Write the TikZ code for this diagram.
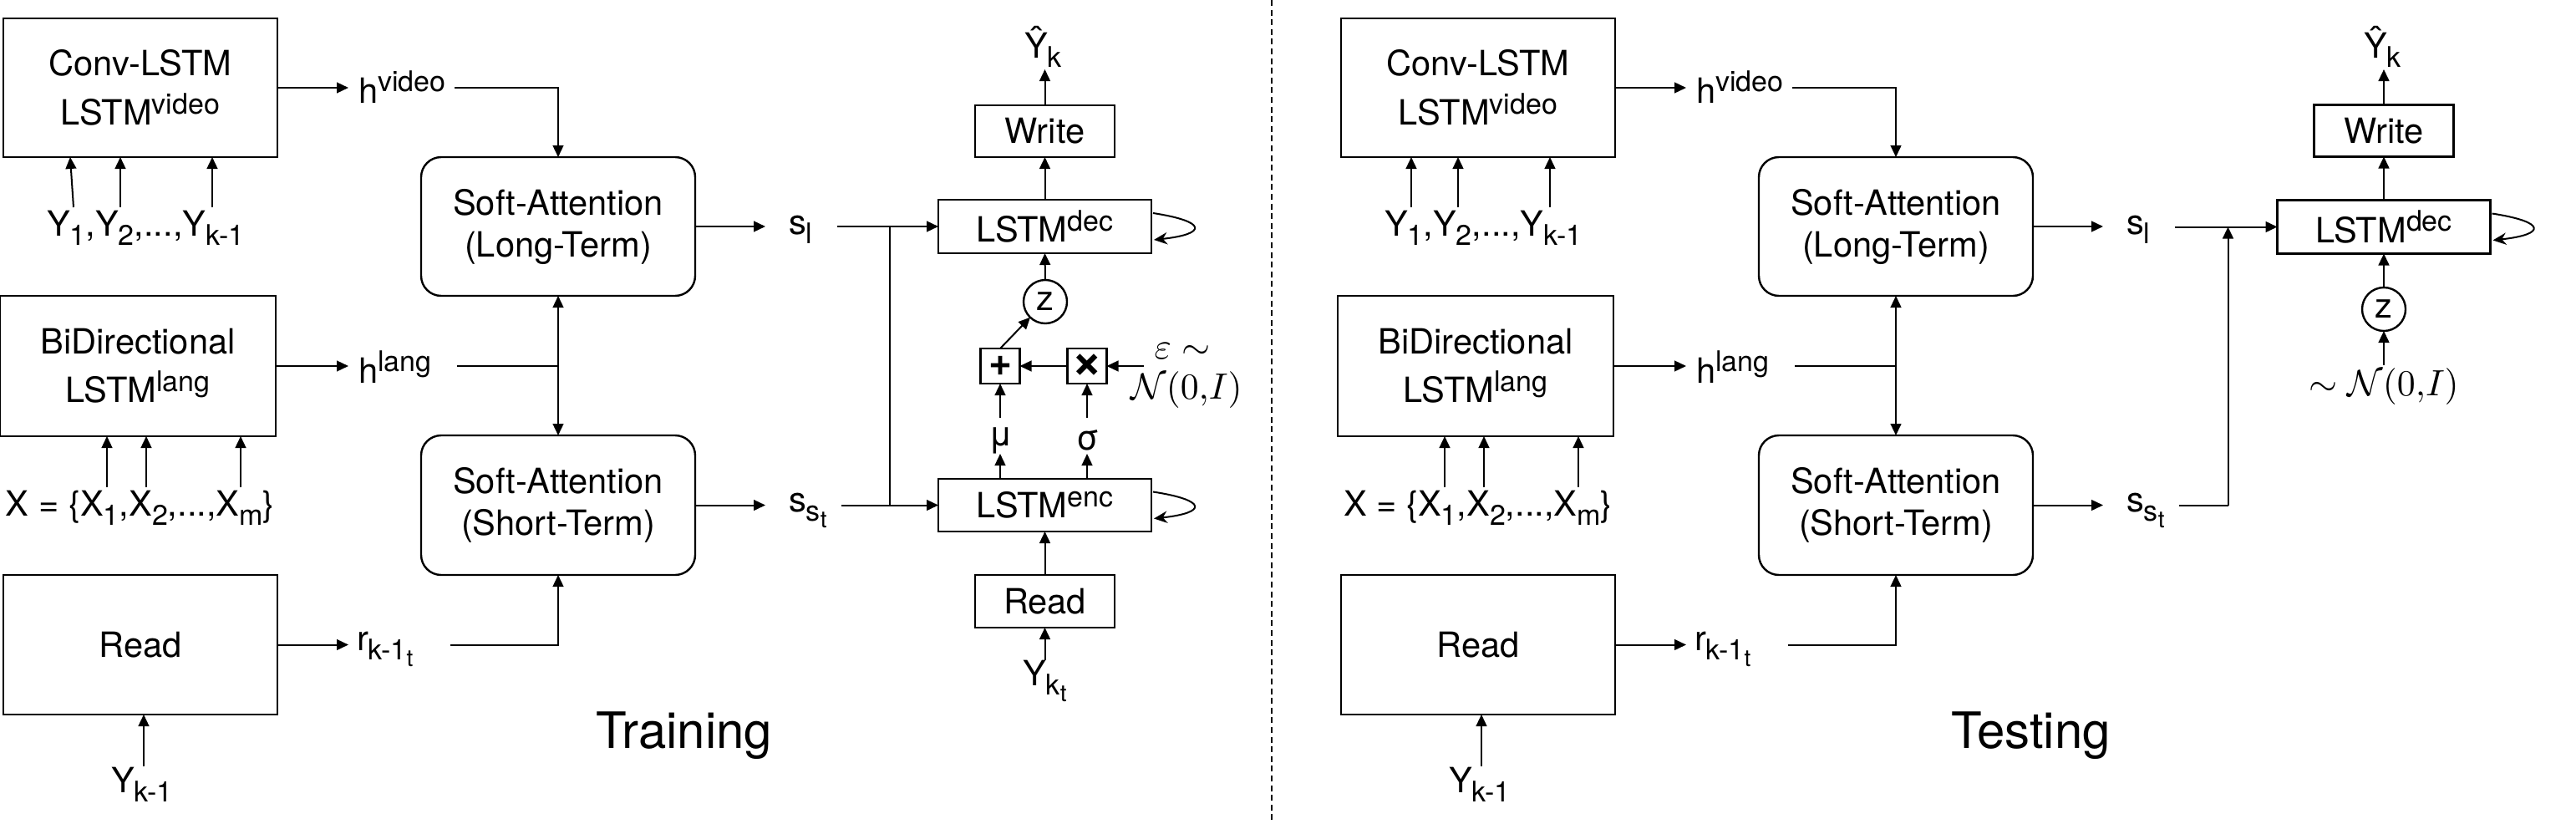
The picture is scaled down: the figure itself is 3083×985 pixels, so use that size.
\documentclass[tikz,border=0pt]{standalone}
\usepackage[no-math]{fontspec}
\setmainfont{TeX Gyre Heros}
\usetikzlibrary{arrows.meta,calc}
\newcommand\sps[1]{\raisebox{3.3pt}{\fontsize{8.5pt}{9pt}\selectfont #1}}
\newcommand\sbs[1]{\raisebox{-2.8pt}{\fontsize{8.5pt}{9pt}\selectfont #1}}
\newcommand\ssbs[1]{\raisebox{-2.0pt}{\fontsize{7pt}{8pt}\selectfont #1}}
\newcommand\mainfs{\fontsize{10.4pt}{14.6pt}\selectfont}
\newcommand\softfs{\fontsize{10.4pt}{12.5pt}\selectfont}
% left half of a panel; #1 = name prefix, #2 = slant of first Y arrow
\newcommand\leftpanel[2]{%
  \node[box, minimum width=82pt, minimum height=41.5pt] (#1conv) at (168,105) {Conv-LSTM\\LSTM\sps{video}};
  \node[box, minimum width=82.5pt, minimum height=42pt] (#1bidir) at (165,438) {BiDirectional\\LSTM\sps{lang}};
  \node[box, minimum width=82pt, minimum height=41.75pt] (#1read) at (168,771.5) {Read};
  \node[rbox, minimum width=82pt, minimum height=41.5pt, font=\softfs] (#1softL) at (668,271) {Soft-Attention\\(Long-Term)};
  \node[rbox, minimum width=82pt, minimum height=41.75pt, font=\softfs] (#1softS) at (668,604.5) {Soft-Attention\\(Short-Term)};
  \node[lbl] (#1ylist) at (56,282) {Y\sbs{1},Y\sbs{2},...,Y\sbs{k-1}};
  \node[lbl] (#1xlist) at (7,617) {X = \{X\sbs{1},X\sbs{2},...,X\sbs{m}\}};
  \node[lbl] (#1yk) at (133,948) {Y\sbs{k-1}};
  \node[lbl] (#1hv) at (429,123) {h\sps{video}};
  \node[lbl] (#1hl) at (429,458) {h\sps{lang}};
  \node[lbl] (#1rr) at (427,778) {r\sbs{k-1\ssbs{t}}};
  \node[lbl] (#1sl) at (944,280) {s\sbs{l}};
  \node[lbl] (#1sst) at (944,612) {s\sbs{s\ssbs{t}}};
  % inputs
  \coordinate (#1ya) at (88,248);
  \coordinate (#1yb) at (144,248);
  \coordinate (#1yc) at (254,248);
  \draw[arr] (#1ya) -- ($(#1ya |- #1conv.south)+(#2,0)$);
  \draw[arr] (#1yb) -- (#1yb |- #1conv.south);
  \draw[arr] (#1yc) -- (#1yc |- #1conv.south);
  \coordinate (#1xa) at (128,583);
  \coordinate (#1xb) at (175,583);
  \coordinate (#1xc) at (288,583);
  \draw[arr] (#1xa) -- (#1xa |- #1bidir.south);
  \draw[arr] (#1xb) -- (#1xb |- #1bidir.south);
  \draw[arr] (#1xc) -- (#1xc |- #1bidir.south);
  \coordinate (#1yka) at (172,917);
  \draw[arr] (#1yka) -- (#1yka |- #1read.south);
  % encoders to attention
  \coordinate (#1hvt) at (417,105);
  \coordinate (#1hvs) at (544,105);
  \draw[arr] (#1conv.east) -- (#1hvt);
  \draw[arr] (#1hvs) -| (#1softL.north);
  \coordinate (#1hlt) at (417,438);
  \coordinate (#1hls) at (547,438);
  \coordinate (#1jl) at (668,438);
  \draw[arr] (#1bidir.east) -- (#1hlt);
  \draw[ln] (#1hls) -- (#1jl);
  \draw[arr] (#1jl) -- (#1softL.south);
  \draw[arr] (#1jl) -- (#1softS.north);
  \coordinate (#1rt) at (417,771.5);
  \coordinate (#1rs) at (539,771.5);
  \draw[arr] (#1read.east) -- (#1rt);
  \draw[arr] (#1rs) -| (#1softS.south);
  \coordinate (#1slt) at (916,271);
  \coordinate (#1sstt) at (916,604.5);
  \draw[arr] (#1softL.east) -- (#1slt);
  \draw[arr] (#1softS.east) -- (#1sstt);
}
\begin{document}
\begin{tikzpicture}[x=0.25pt,y=-0.25pt,
  every node/.style={inner sep=0pt, outer sep=0pt, font=\mainfs},
  box/.style={draw, line width=0.6pt, align=center},
  rbox/.style={box, rounded corners=6pt},
  arr/.style={-{Triangle[length=3.5pt,width=3.2pt]}, line width=0.5pt},
  ln/.style={line width=0.5pt},
  lp/.style={-{Stealth[length=4pt,width=3.6pt]}, line width=0.5pt},
  lbl/.style={anchor=base west},
  ttl/.style={font=\fontsize{15pt}{18pt}\selectfont, anchor=base},
  circ/.style={circle, draw, line width=0.6pt, minimum size=13pt},
  opbox/.style={box, minimum width=11.75pt, minimum height=10.5pt, font=\fontsize{12pt}{12pt}\selectfont\bfseries}
]
\fill[white] (0,0) rectangle (3083,985);
\useasboundingbox (0,0) rectangle (3083,985);

% ================= Training =================
\leftpanel{A}{-4}
\node[box, minimum width=63.75pt, minimum height=16pt] (dec) at (1250.5,271) {LSTM\sps{dec}};
\node[box, minimum width=41.75pt, minimum height=15.5pt] (write) at (1250.5,157) {Write};
\node[lbl] (yhat) at (1226,69) {Ŷ\sbs{k}};
\coordinate (yhatb) at (1250.5,83);
\node[circ] (z) at (1251,361) {z};
\node[opbox] (plus) at (1197,438) {+};
\node[opbox, font=\fontsize{16pt}{16pt}\selectfont\bfseries] (times) at (1301,438) {×};
\node (eps) at (1415,420) {\fontsize{10.5pt}{12pt}\selectfont$\varepsilon\sim$};
\node (nrm) at (1420,467) {\fontsize{10.5pt}{12pt}\selectfont$\mathcal{N}(0{,}I)$};
\node (mu) at (1198,527) {μ};
\node (sig) at (1302,527) {σ};
\node[box, minimum width=63.75pt, minimum height=15.75pt] (enc) at (1250.5,604.5) {LSTM\sps{enc}};
\node[box, minimum width=41.75pt, minimum height=15.75pt] (read2) at (1250.5,719.5) {Read};
\node[lbl] (ykt) at (1224,820) {Y\sbs{k\ssbs{t}}};

\draw[arr] (write.north) -- (yhatb);
\draw[arr] (dec.north) -- (write.south);
\draw[arr] (z.north) -- (dec.south);
\draw[arr] (plus.north) -- (z);
\draw[arr] (times.west) -- (plus.east);
\coordinate (epss) at (1369,438);
\draw[arr] (epss) -- (times.east);
\coordinate (mut) at (1197,500);
\coordinate (sigt) at (1301,500);
\draw[arr] (mut) -- (plus.south);
\draw[arr] (sigt) -- (times.south);
\draw[arr] (enc.north -| plus) -- ++(0,-30);
\draw[arr] (enc.north -| times) -- ++(0,-30);
\draw[arr] (read2.north) -- (enc.south);
\coordinate (ykta) at (1250.5,790);
\draw[arr] (ykta) -- (read2.south);
\draw[lp] ($(dec.east)+(2,-16)$) .. controls ($(dec.east)+(67,-6)$) and ($(dec.east)+(67,9)$) .. ($(dec.east)+(3,16)$);
\draw[lp] ($(enc.east)+(2,-16)$) .. controls ($(enc.east)+(67,-6)$) and ($(enc.east)+(67,9)$) .. ($(enc.east)+(3,16)$);
\coordinate (sls) at (1002,271);
\coordinate (ssts) at (1007,604.5);
\coordinate (j1) at (1065,271);
\coordinate (j2) at (1065,604.5);
\draw[arr] (sls) -- (dec.west);
\draw[arr] (ssts) -- (enc.west);
\draw[ln] (j1) -- (j2);
\node[ttl] (ttrain) at (818.5,895) {Training};

% ================= divider =================
\coordinate (dtop) at (1522,0);
\coordinate (dbot) at (1522,985);
\draw[line width=0.45pt, dash pattern=on 1.75pt off 1.15pt] (dtop) -- (dbot);

% ================= Testing =================
\begin{scope}[xshift=400.25pt]
\leftpanel{B}{0}
\end{scope}
\node[box, minimum width=63.75pt, minimum height=16pt] (dec2) at (2853,271.5) {LSTM\sps{dec}};
\node[box, minimum width=41.75pt, minimum height=15.5pt] (write2) at (2853,156.5) {Write};
\node[lbl] (yhat2) at (2829,69) {Ŷ\sbs{k}};
\coordinate (yhat2b) at (2853,83);
\node[circ] (z2) at (2853,370) {z};
\node (nrm2) at (2853,463) {\fontsize{10.5pt}{12pt}\selectfont$\sim\mathcal{N}(0{,}I)$};
\coordinate (n2t) at (2853,437);
\draw[arr] (write2.north) -- (yhat2b);
\draw[arr] (dec2.north) -- (write2.south);
\draw[arr] (z2.north) -- (dec2.south);
\draw[arr] (n2t) -- (z2.south);
\draw[lp] ($(dec2.east)+(2,-16)$) .. controls ($(dec2.east)+(67,-6)$) and ($(dec2.east)+(67,9)$) .. ($(dec2.east)+(3,16)$);
\coordinate (tsls) at (2603,271.5);
\coordinate (tssts) at (2608,604.5);
\coordinate (tj1) at (2666.5,271.5);
\coordinate (tj2) at (2666.5,604.5);
\draw[arr] (tsls) -- (dec2.west);
\draw[ln] (tssts) -- (tj2);
\draw[arr] (tj2) -- (tj1);
\node[ttl] (ttest) at (2430.5,895) {Testing};
\end{tikzpicture}
\end{document}
